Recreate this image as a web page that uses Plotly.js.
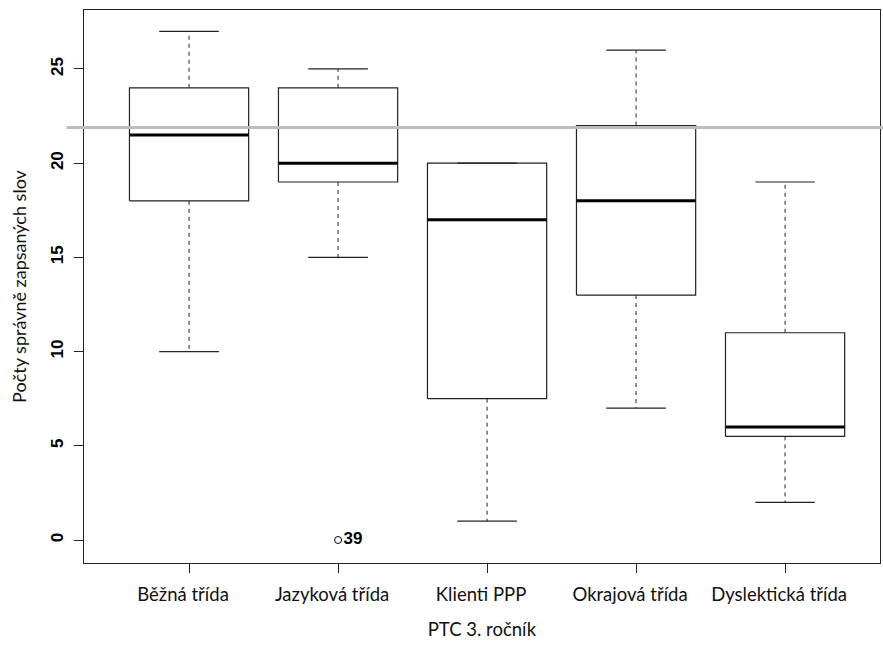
<!DOCTYPE html>
<html>
<head>
<meta charset="utf-8">
<script src="https://cdn.plot.ly/plotly-3.0.1.min.js"></script>
<style>html,body{margin:0;padding:0;background:#fff;}#chart{width:883px;height:647px;}</style>
</head>
<body>
<div id="chart"></div>
<script>
var categories = ["Běžná třída", "Jazyková třída", "Klienti PPP", "Okrajová třída", "Dyslektická třída"];
var lowerWhisker = [10, 15, 1, 7, 2];
var q1 = [18, 19, 7.5, 13, 5.5];
var median = [21.5, 20, 17, 18, 6];
var q3 = [24, 24, 20, 22, 11];
var upperWhisker = [27, 25, 20, 26, 19];
var outlierGroup = [2];
var outlierValue = [0];
var outlierLabel = ["39"];
var referenceLine = 21.9;
var yTicks = [0, 5, 10, 15, 20, 25];

var boxHalf = 0.4, capHalf = 0.2;
var boxX = [], boxY = [], medX = [], medY = [], whX = [], whY = [], capX = [], capY = [];
for (var i = 0; i < categories.length; i++) {
  var c = i + 1;
  boxX.push(c - boxHalf, c + boxHalf, c + boxHalf, c - boxHalf, c - boxHalf, null);
  boxY.push(q1[i], q1[i], q3[i], q3[i], q1[i], null);
  medX.push(c - boxHalf, c + boxHalf, null);
  medY.push(median[i], median[i], null);
  if (upperWhisker[i] > q3[i]) { whX.push(c, c, null); whY.push(q3[i], upperWhisker[i], null); }
  if (lowerWhisker[i] < q1[i]) { whX.push(c, c, null); whY.push(q1[i], lowerWhisker[i], null); }
  capX.push(c - capHalf, c + capHalf, null, c - capHalf, c + capHalf, null);
  capY.push(upperWhisker[i], upperWhisker[i], null, lowerWhisker[i], lowerWhisker[i], null);
}

var traces = [
  {x: whX, y: whY, mode: 'lines', line: {color: '#222', width: 1, dash: '4px,4px'}, hoverinfo: 'skip'},
  {x: capX, y: capY, mode: 'lines', line: {color: '#222', width: 1.2}, hoverinfo: 'skip'},
  {x: boxX, y: boxY, mode: 'lines', line: {color: '#222', width: 1.2}, hoverinfo: 'skip'},
  {x: medX, y: medY, mode: 'lines', line: {color: '#000', width: 3}, hoverinfo: 'skip'},
  {x: outlierGroup, y: outlierValue, mode: 'markers+text', text: outlierLabel.map(function(t){return '<b>' + t + '</b>';}),
   textposition: 'middle right', textfont: {family: 'Liberation Sans, Arial', size: 17, color: '#000'},
   marker: {symbol: 'circle-open', size: 7, color: '#000', line: {width: 1}}, hoverinfo: 'skip'}
];

var layout = {
  width: 883, height: 647,
  margin: {l: 84, r: 3, t: 10, b: 84},
  showlegend: false,
  paper_bgcolor: '#fff', plot_bgcolor: '#fff',
  xaxis: {
    range: [0.295, 5.637],
    tickvals: [1, 2, 3, 4, 5], ticktext: categories,
    ticks: 'outside', ticklen: 9, tickcolor: '#222',
    ticklabelshift: -6, ticklabelstandoff: 6,
    showgrid: false, zeroline: false,
    showline: true, mirror: true, linecolor: '#222', linewidth: 1.2,
    tickfont: {family: 'Lato, Open Sans, sans-serif', size: 18.5, color: '#111'},
    title: {text: 'PTC 3. ročník', font: {family: 'Lato, Open Sans, sans-serif', size: 18.5, color: '#111'}, standoff: 18}
  },
  yaxis: {
    range: [-1.22, 28.13],
    tickvals: yTicks, ticktext: yTicks.map(String),
    tickangle: -90,
    ticks: 'outside', ticklen: 9, tickcolor: '#222',
    ticklabelstandoff: 4,
    showgrid: false, zeroline: false,
    showline: true, mirror: true, linecolor: '#222', linewidth: 1.2,
    tickfont: {family: 'Liberation Sans, Arial', size: 17, color: '#000', weight: 'bold'},
    title: {text: 'Počty správně zapsaných slov', font: {family: 'Lato, Open Sans, sans-serif', size: 18, color: '#111'}, standoff: 16}
  },
  shapes: [
    {type: 'line', xref: 'paper', yref: 'y', x0: -0.022, x1: 1.01, y0: referenceLine, y1: referenceLine,
     line: {color: '#bdbdbd', width: 3}, layer: 'above'}
  ]
};

Plotly.newPlot('chart', traces, layout, {displayModeBar: false, staticPlot: true});
</script>
</body>
</html>
